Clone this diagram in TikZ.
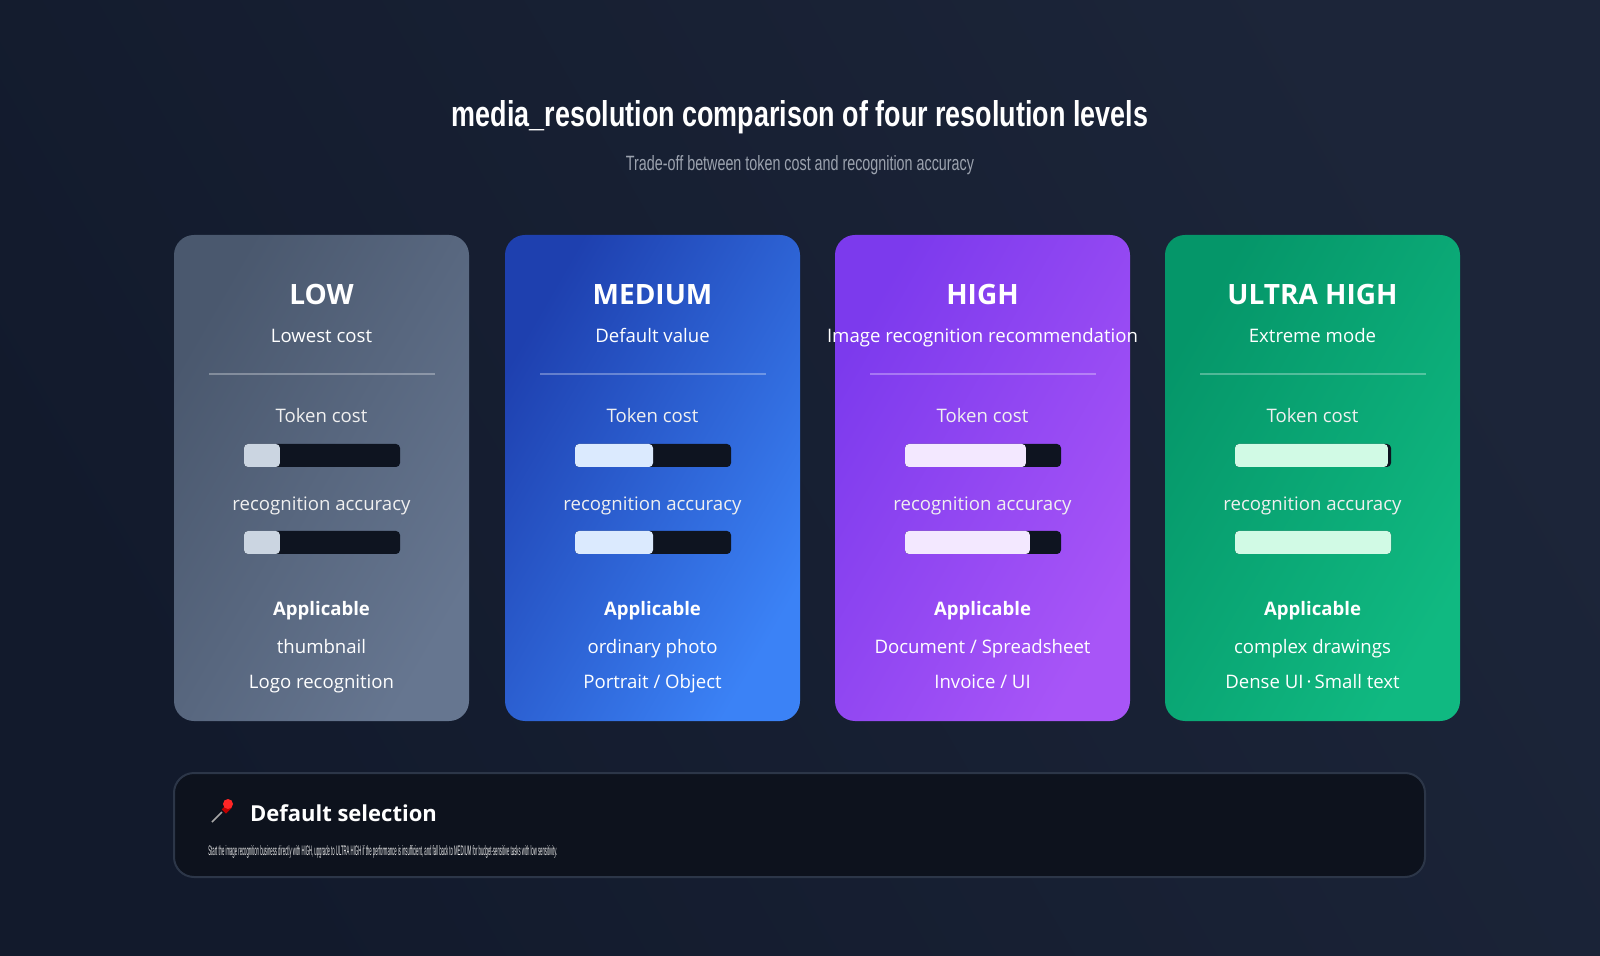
\documentclass[tikz,border=0pt]{standalone}
\usepackage{fontspec}
\setmainfont{Open Sans}
\newfontfamily\titlefont{Liberation Sans}
\usepackage{graphicx}
\definecolor{bgA}{HTML}{121A2C}
\definecolor{bgB}{HTML}{1C2539}
\definecolor{track}{HTML}{0E1420}
\definecolor{subg}{HTML}{9CA3AF}
\definecolor{boxbg}{HTML}{0D121D}
\definecolor{boxln}{HTML}{2C3648}
\definecolor{lowA}{HTML}{4A586E}\definecolor{lowB}{HTML}{667690}\definecolor{lowF}{HTML}{CBD5E1}
\definecolor{medA}{HTML}{1E40AF}\definecolor{medB}{HTML}{3B82F6}\definecolor{medF}{HTML}{DBEAFE}
\definecolor{hiA}{HTML}{7C3AED}\definecolor{hiB}{HTML}{A855F7}\definecolor{hiF}{HTML}{F3E8FF}
\definecolor{ulA}{HTML}{059669}\definecolor{ulB}{HTML}{10B981}\definecolor{ulF}{HTML}{D1FAE5}
\begin{document}
\begin{tikzpicture}[x=0.5pt,y=-0.5pt,
  ctitle/.style={text=white,font=\fontsize{14}{16}\selectfont\bfseries,anchor=base},
  ctext/.style={text=white,font=\fontsize{9.3}{11}\selectfont,anchor=base},
  clabel/.style={text=white!88!gray,font=\fontsize{9.3}{11}\selectfont,anchor=base},
  cbold/.style={text=white,font=\fontsize{9.3}{11}\selectfont\bfseries,anchor=base},
  trackst/.style={fill=track,rounded corners=2pt},
  ]
\shade[left color=bgA,right color=bgB,shading angle=120] (0,0) rectangle (1600,956);
\useasboundingbox (0,0) rectangle (1600,956);
\node[text=white,anchor=base] (title) at (800,127) {\resizebox{348pt}{13pt}{\titlefont\bfseries media\_resolution comparison of four resolution levels}};
\node[text=subg,anchor=base] (sub) at (800,171) {\resizebox{174pt}{7.5pt}{\titlefont Trade-off between token cost and recognition accuracy}};
\foreach \i/\x/\ca/\cb/\cf/\name/\desc/\ft/\fa/\la/\lb in {
  1/174/lowA/lowB/lowF/LOW/Lowest cost/0.23/0.23/thumbnail/Logo recognition,
  2/505/medA/medB/medF/MEDIUM/Default value/0.5/0.5/ordinary photo/{Portrait / Object},
  3/835/hiA/hiB/hiF/HIGH/Image recognition recommendation/0.775/0.8/{Document / Spreadsheet}/{Invoice / UI},
  4/1165/ulA/ulB/ulF/ULTRA HIGH/Extreme mode/0.98/1.0/complex drawings/{Dense UI\,·\,Small text}}{
  \pgfmathsetmacro{\cx}{\x+147.5}
  \shade[rounded corners=10pt,left color=\ca,right color=\cb,shading angle=60] (\x,235) rectangle ++(295,486);
  \node[ctitle] (t\i) at (\cx,305) {\name};
  \node[ctext] (d\i) at (\cx,343) {\desc};
  \draw[white,opacity=0.3,line width=0.6pt] (\x+35,374) coordinate (dl\i) -- (\x+261,374) coordinate (dr\i);
  \node[clabel] (tc\i) at (\cx,423) {Token cost};
  \fill[trackst] (\x+70,444) rectangle (\x+226,467);
  \fill[\cf,rounded corners=2pt] (\x+70,444) rectangle (\x+70+156*\ft,467);
  \node[clabel] (ra\i) at (\cx,510) {recognition accuracy};
  \fill[trackst] (\x+70,531) rectangle (\x+226,554);
  \fill[\cf,rounded corners=2pt] (\x+70,531) rectangle (\x+70+156*\fa,554);
  \node[cbold] (ap\i) at (\cx,615) {Applicable};
  \node[ctext] (la\i) at (\cx,653) {\la};
  \node[ctext] (lb\i) at (\cx,688) {\lb};
}
\draw[boxln,fill=boxbg,line width=1pt,rounded corners=10pt] (174,773) rectangle (1425,877);
% pin
\draw[gray!70,line width=0.8pt] (212,822) -- (222,812);
\fill[red!75!black,rotate around={45:(226,808)}] (222,806) rectangle (230,812);
\fill[red!85!white] (228,804) circle (5);
\node[text=white,font=\fontsize{11}{13}\selectfont\bfseries,anchor=base west] (ds) at (243,821) {Default selection};
\node[text=white!85!gray,anchor=base west,inner sep=0] (dt) at (208,855) {\resizebox{174.5pt}{5pt}{\titlefont Start the image recognition business directly with HIGH, upgrade to ULTRA HIGH if the performance is insufficient, and fall back to MEDIUM for budget-sensitive tasks with low sensitivity.}};
\end{tikzpicture}
\end{document}
